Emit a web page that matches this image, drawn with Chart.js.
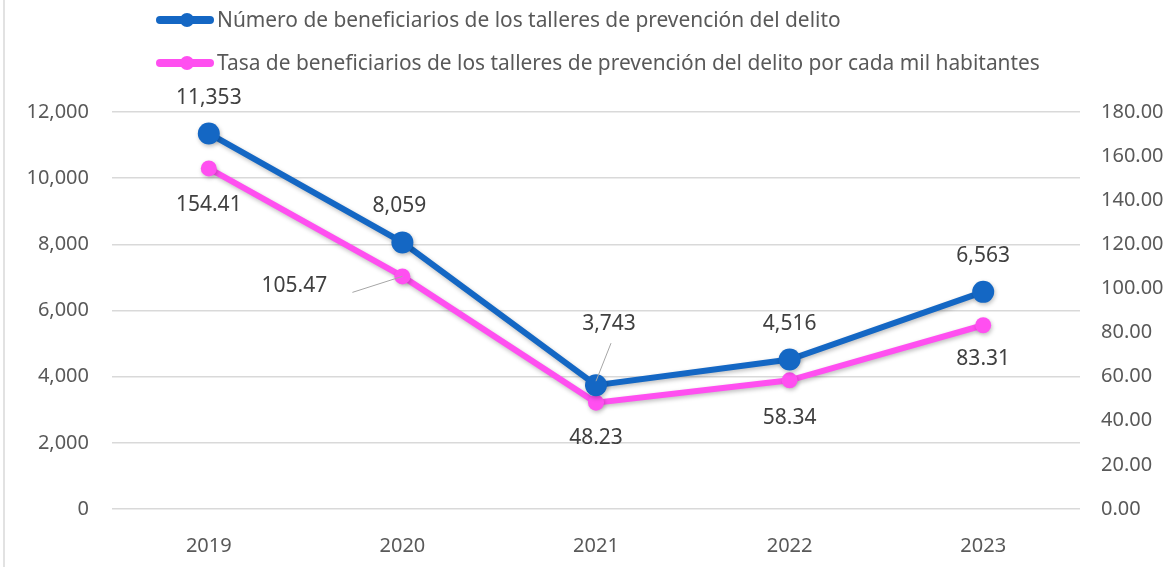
<!DOCTYPE html>
<html>
<head>
<meta charset="utf-8">
<script src="https://cdn.jsdelivr.net/npm/chart.js@4.4.1/dist/chart.umd.min.js"></script>
<style>
    html, body { margin: 0; padding: 0; background: #fff; }
    #wrap { position: relative; width: 1176px; height: 567px; }
</style>
</head>
<body>
<div id="wrap"><canvas id="grafica" width="1176" height="567"></canvas></div>
<script>
var anios = ['2019', '2020', '2021', '2022', '2023'];
var beneficiarios = [11353, 8059, 3743, 4516, 6563];
var tasa = [154.41, 105.47, 48.23, 58.34, 83.31];
var ticksIzq = [0, 2000, 4000, 6000, 8000, 10000, 12000];
var ticksDer = [0, 20, 40, 60, 80, 100, 120, 140, 160, 180];

var nombreBenef = 'Número de beneficiarios de los talleres de prevención del delito';
var nombreTasa = 'Tasa de beneficiarios de los talleres de prevención del delito por cada mil habitantes';

var azul = '#1467c4';
var rosa = '#ff4ff0';
var fuente = "'Noto Sans', sans-serif";

// desplazamiento de etiquetas [dx, dy] y lineas guia
var posEtiquetas = [
    [[0, -35], [-3, -36], [13, -61], [0, -36], [0, -36]],
    [[0, 37], [-108, 10], [0, 35], [0, 38], [0, 34]]
];
var guias = [
    { ds: 0, i: 2, desde: [15, -42] },
    { ds: 1, i: 1, desde: [-50, 16] }
];

function formatoMiles(v) {
    return Number(v).toLocaleString('en-US');
}

var pluginEtiquetas = {
    id: 'etiquetas',
    beforeDraw: function (chart) {
        var ctx = chart.ctx;
        ctx.save();
        ctx.strokeStyle = '#d9d9d9';
        ctx.lineWidth = 1.5;
        ctx.beginPath();
        ctx.moveTo(4, 0);
        ctx.lineTo(4, 567);
        ctx.stroke();
        ctx.restore();
    },
    beforeDatasetsDraw: function (chart) {
        chart.ctx.save();
        chart.ctx.shadowColor = 'rgba(0,0,0,0.25)';
        chart.ctx.shadowBlur = 4;
        chart.ctx.shadowOffsetX = 1;
        chart.ctx.shadowOffsetY = 2;
    },
    afterDatasetsDraw: function (chart) {
        var ctx = chart.ctx;
        ctx.restore();
        ctx.save();
        // lineas guia
        ctx.strokeStyle = '#a6a6a6';
        ctx.lineWidth = 1;
        guias.forEach(function (g) {
            var p = chart.getDatasetMeta(g.ds).data[g.i];
            ctx.beginPath();
            ctx.moveTo(p.x + g.desde[0], p.y + g.desde[1]);
            ctx.lineTo(p.x, p.y - (g.ds == 0 ? 4 : 0));
            ctx.stroke();
        });
        ctx.font = '21px ' + fuente;
        ctx.fillStyle = '#404040';
        ctx.textAlign = 'center';
        ctx.textBaseline = 'middle';
        chart.data.datasets.forEach(function (ds, d) {
            chart.getDatasetMeta(d).data.forEach(function (p, i) {
                var txt = d == 0 ? formatoMiles(ds.data[i]) : ds.data[i].toFixed(2);
                var o = posEtiquetas[d][i];
                ctx.fillText(txt, p.x + o[0], p.y + o[1]);
            });
        });
        // leyenda
        var items = [[nombreBenef, azul, 20], [nombreTasa, rosa, 63]];
        ctx.font = '20.9px ' + fuente;
        ctx.textAlign = 'left';
        items.forEach(function (it) {
            ctx.strokeStyle = it[1];
            ctx.lineWidth = 8;
            ctx.lineCap = 'round';
            ctx.beginPath();
            ctx.moveTo(160, it[2]);
            ctx.lineTo(210, it[2]);
            ctx.stroke();
            ctx.fillStyle = it[1];
            ctx.beginPath();
            ctx.arc(187, it[2], 7, 0, Math.PI * 2);
            ctx.fill();
            ctx.fillStyle = '#595959';
            ctx.fillText(it[0], 217, it[2] + 1);
        });
        ctx.restore();
    }
};

var ctx = document.getElementById('grafica').getContext('2d');
window.grafica = new Chart(ctx, {
    type: 'line',
    data: {
        labels: anios,
        datasets: [{
            label: nombreBenef,
            data: beneficiarios,
            yAxisID: 'y',
            borderColor: azul,
            backgroundColor: azul,
            borderWidth: 6,
            pointRadius: 11,
            pointHoverRadius: 11,
            pointBorderWidth: 0,
            tension: 0
        }, {
            label: nombreTasa,
            data: tasa,
            yAxisID: 'y1',
            borderColor: rosa,
            backgroundColor: rosa,
            borderWidth: 6,
            pointRadius: 8,
            pointHoverRadius: 8,
            pointBorderWidth: 0,
            tension: 0
        }]
    },
    options: {
        responsive: false,
        animation: false,
        layout: { padding: { top: 112, left: 0, right: 0, bottom: 0 } },
        plugins: {
            legend: { display: false },
            tooltip: { enabled: false }
        },
        scales: {
            x: {
                offset: true,
                grid: { display: false },
                border: { display: false },
                ticks: { color: '#595959', font: { family: fuente, size: 20 }, padding: 17 },
                afterFit: function (s) { s.height = 58; }
            },
            y: {
                position: 'left',
                min: 0,
                max: 12000,
                afterBuildTicks: function (s) { s.ticks = ticksIzq.map(function (v) { return { value: v }; }); },
                grid: { color: '#d9d9d9', lineWidth: 1.5, drawTicks: false },
                border: { display: false },
                ticks: {
                    color: '#595959',
                    font: { family: fuente, size: 20 },
                    padding: 23,
                    callback: function (v) { return formatoMiles(v); }
                },
                afterFit: function (s) { s.width = 112; }
            },
            y1: {
                position: 'right',
                min: 0,
                max: 180,
                afterBuildTicks: function (s) { s.ticks = ticksDer.map(function (v) { return { value: v }; }); },
                grid: { display: false, drawTicks: false },
                border: { display: false },
                ticks: {
                    color: '#595959',
                    font: { family: fuente, size: 20 },
                    padding: 21,
                    callback: function (v) { return Number(v).toFixed(2); }
                },
                afterFit: function (s) { s.width = 96; }
            }
        }
    },
    plugins: [pluginEtiquetas]
});
</script>
</body>
</html>
